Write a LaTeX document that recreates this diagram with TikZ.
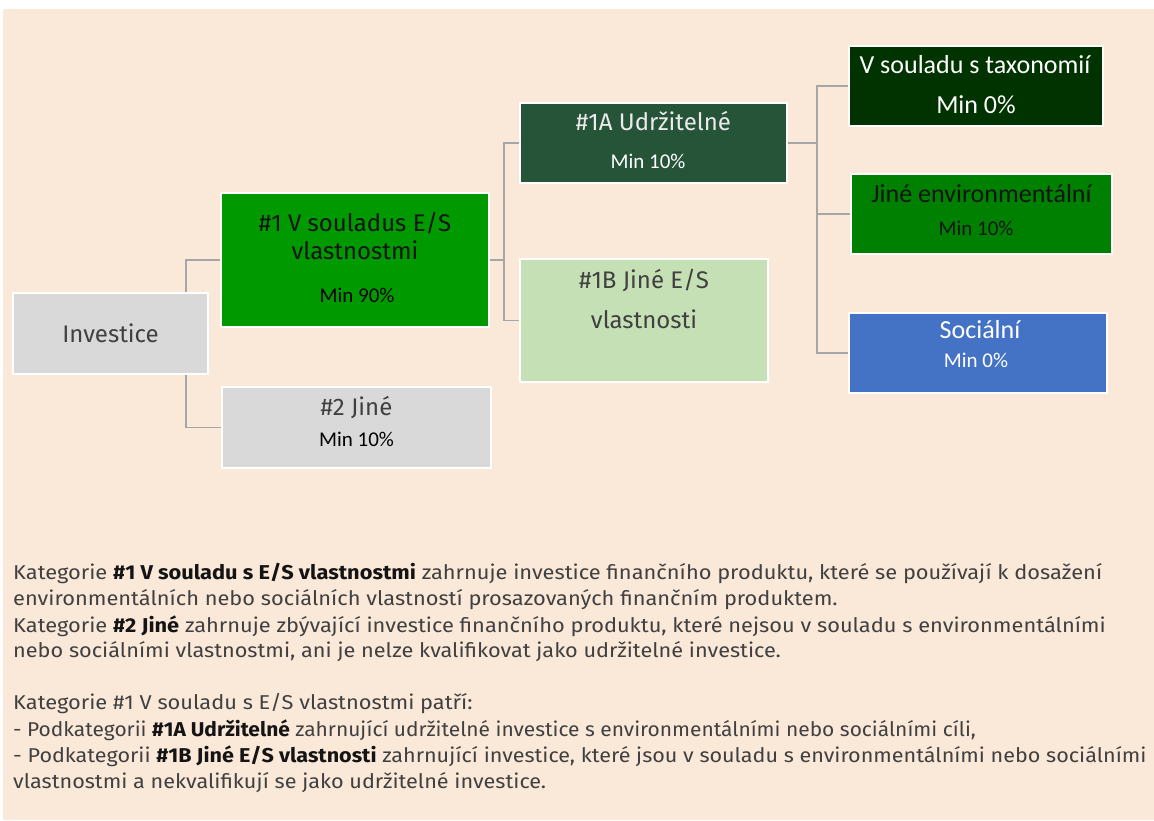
\documentclass[tikz,border=0pt]{standalone}
\usepackage{fontspec}
\usepackage{graphicx}
\setmainfont{Carlito}
\newfontfamily\boxfont{Fira Sans}
\definecolor{bg}{RGB}{250,232,216}
\definecolor{connc}{RGB}{166,166,166}
\definecolor{greyfill}{RGB}{217,217,217}
\definecolor{g1}{RGB}{0,153,0}
\definecolor{g1a}{RGB}{38,84,57}
\definecolor{g1b}{RGB}{197,224,180}
\definecolor{gtax}{RGB}{0,51,0}
\definecolor{genv}{RGB}{0,128,0}
\definecolor{bsoc}{RGB}{68,114,196}
\definecolor{txtc}{RGB}{64,64,64}
\definecolor{darkc}{RGB}{20,20,20}
\definecolor{lightc}{RGB}{235,235,235}
\newcommand\bb[1]{\textbf{\color{darkc}#1}}
\newcommand\pl[2][1.09]{\scalebox{#1}[1]{#2}}
\begin{document}
\begin{tikzpicture}[x=1pt,y=-1pt,
  box/.style={draw=white, line width=1.2pt, inner sep=0pt, rectangle},
  conn/.style={draw=connc, line width=1.6pt},
  ttl/.style={anchor=base, inner sep=0pt, font=\boxfont\fontsize{24}{28}\selectfont},
  ttlc/.style={anchor=base, inner sep=0pt, font=\fontsize{26}{30}\selectfont},
  mn/.style={anchor=base, inner sep=0pt, font=\fontsize{21}{25}\selectfont},
  para/.style={anchor=base west, inner sep=0pt, font=\boxfont\fontsize{20}{24}\selectfont, text=txtc}]
\useasboundingbox (0,0) rectangle (1154,820);
\fill[white] (0,0) rectangle (1154,820);
\fill[bg] (3,9) rectangle (1154,820);

% boxes
\node[box, fill=greyfill, minimum width=195pt, minimum height=81pt] (inv) at (110.5,333.5) {};
\node[box, fill=g1, minimum width=268pt, minimum height=134pt] (n1) at (355,260) {};
\node[box, fill=greyfill, minimum width=269pt, minimum height=81pt] (n2) at (356.5,427.5) {};
\node[box, fill=g1a, minimum width=267pt, minimum height=80pt] (n1a) at (653.5,143) {};
\node[box, fill=g1b, minimum width=248pt, minimum height=123pt] (n1b) at (644,320.5) {};
\node[box, fill=gtax, minimum width=254pt, minimum height=80pt] (tax) at (976,86) {};
\node[box, fill=genv, minimum width=261pt, minimum height=80pt] (env) at (981.5,214) {};
\node[box, fill=bsoc, minimum width=258pt, minimum height=80pt] (soc) at (978,353) {};

% connectors
\coordinate (j1) at (186,333);
\coordinate (j2) at (504,143);
\coordinate (j3) at (817,86);
\draw[conn] (inv.north -| j1) |- (n1.west);
\draw[conn] (inv.south -| j1) |- (n2.west);
\draw[conn] (n1.east) -- (n1.east -| j2);
\draw[conn] (n1a.west) -- (j2) |- (n1b.west);
\draw[conn] (n1a.east) -- (n1a.east -| j3);
\draw[conn] (tax.west) -- (j3) |- (soc.west);
\draw[conn] (env.west) -- (env.west -| j3);

% box texts
\node[ttl, text=txtc] (tinv) at (110.5,342) {Investice};
\node[ttl, text=darkc] (t1a) at (355,231) {\#1 V souladus E/S};
\node[ttl, text=darkc] (t1b) at (355,259) {vlastnostmi};
\node[mn, text=black] (t1c) at (357,302) {Min 90\%};
\node[ttl, text=txtc] (t2a) at (356.5,415) {\#2 Jiné};
\node[mn, text=black] (t2b) at (356.5,446) {Min 10\%};
\node[ttl, text=lightc] (t1aa) at (653.5,130) {\#1A Udržitelné};
\node[mn, text=white] (t1ab) at (648,168) {Min 10\%};
\node[ttl, text=txtc] (t1ba) at (644,288) {\#1B Jiné E/S};
\node[ttl, text=txtc] (t1bb) at (644,328) {vlastnosti};
\node[ttlc, text=white] (ttaxa) at (975,73) {V souladu s taxonomií};
\node[mn, text=white, font=\fontsize{26}{30}\selectfont] (ttaxb) at (976,113) {Min 0\%};
\node[ttlc, text=darkc] (tenva) at (981.5,202) {Jiné environmentální};
\node[mn, text=darkc] (tenvb) at (976,235) {Min 10\%};
\node[ttlc, text=white] (tsoca) at (980,338) {Sociální};
\node[mn, text=white] (tsocb) at (976,367) {Min 0\%};

% paragraph
\node[para] (p1) at (13,579) {\pl{Kategorie \bb{\#1 V souladu s E/S vlastnostmi} zahrnuje investice finančního produktu, které se používají k dosažení}};
\node[para] (p2) at (13,605) {\pl{environmentálních nebo sociálních vlastností prosazovaných finančním produktem.}};
\node[para] (p3) at (13,632) {\pl{Kategorie \bb{\#2 Jiné} zahrnuje zbývající investice finančního produktu, které nejsou v souladu s environmentálními}};
\node[para] (p4) at (13,657) {\pl[1.085]{nebo sociálními vlastnostmi, ani je nelze kvalifikovat jako udržitelné investice.}};
\node[para] (p6) at (13,709) {\pl{Kategorie \#1 V souladu s E/S vlastnostmi patří:}};
\node[para] (p7) at (13,736) {\pl[1.047]{- Podkategorii \bb{\#1A Udržitelné} zahrnující udržitelné investice s environmentálními nebo sociálními cíli,}};
\node[para] (p8) at (13,762) {\pl[1.078]{- Podkategorii \bb{\#1B Jiné E/S vlastnosti} zahrnující investice, které jsou v souladu s environmentálními nebo sociálními}};
\node[para] (p9) at (13,788) {\pl[1.082]{vlastnostmi a nekvalifikují se jako udržitelné investice.}};
\end{tikzpicture}
\end{document}
